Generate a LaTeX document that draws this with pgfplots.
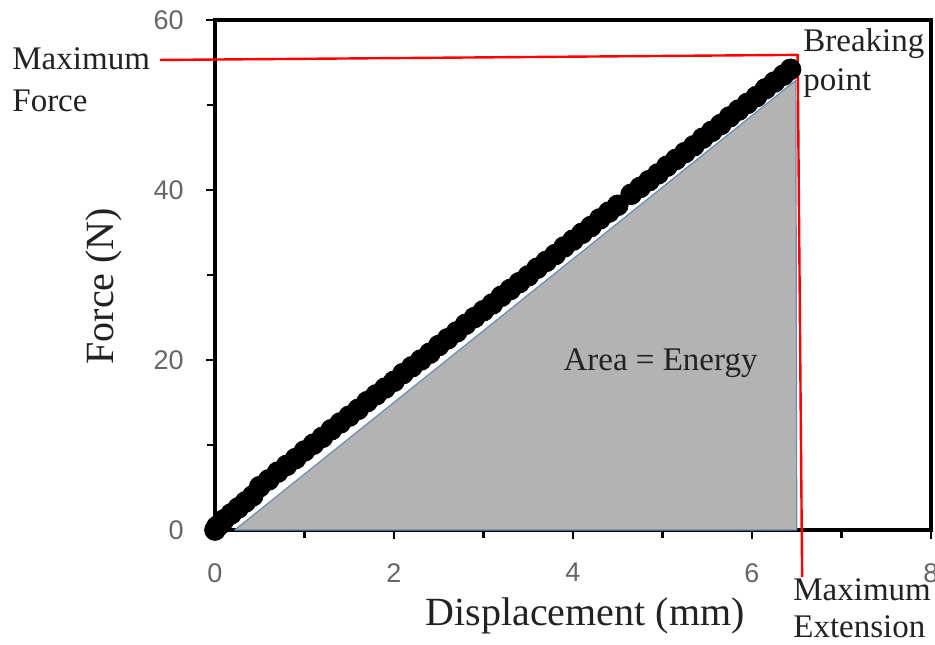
\documentclass[border=0pt]{standalone}
\usepackage{fontspec}
\setmainfont{Liberation Serif}
\newfontfamily\tickfont{Liberation Sans}
\usepackage{pgfplots}
\pgfplotsset{compat=1.18}
\definecolor{edgeblue}{HTML}{6A8CAF}
\definecolor{areagray}{HTML}{B3B3B3}
\definecolor{labtext}{HTML}{222222}
\begin{document}
\begin{tikzpicture}
\path[use as bounding box] (-107.5pt,-57pt) rectangle (360pt,265pt);
\begin{axis}[
  scale only axis,
  width=358pt, height=255pt,
  xmin=0, xmax=8, ymin=0, ymax=60,
  xtick={0,2,4,6,8}, ytick={0,20,40,60},
  minor x tick num=1, minor y tick num=1,
  xtick pos=bottom, ytick pos=left,
  tick align=outside,
  major tick length=4.5pt, minor tick length=4pt,
  every tick/.style={black, line width=1.3pt},
  axis line style={black, line width=1.6pt},
  /pgf/number format/assume math mode=true,
  ticklabel style={font=\tickfont\fontsize{13.5}{16}\selectfont, text=black!60},
  xticklabel style={anchor=north, inner sep=0pt, yshift=-12pt},
  yticklabel style={anchor=east, inner sep=0pt, xshift=-11pt},
  clip=false,
  xlabel={Displacement (mm)},
  ylabel={Force (N)},
  label style={font=\fontsize{20}{24}\selectfont, text=labtext},
  xlabel style={at={(axis description cs:0.517,-0.188)}, anchor=base},
  ylabel style={at={(axis description cs:-0.142,0.478)}, anchor=base},
]
% shaded area
\addplot[fill=areagray, draw=edgeblue, line width=0.6pt]
  coordinates {(0.22,0) (6.49,52.9) (6.5,0) (0.22,0)};
% measured points
\addplot[only marks, mark=*, mark size=5.2pt, black] coordinates {
(0,0) (0.02,0.4) (0.05,0.6) (0.1,1.2) (0.18,1.9) (0.26,2.6) (0.34,3.3) (0.42,4.0)
(0.5,5.1) (0.6,5.9) (0.7,6.8) (0.8,7.6) (0.9,8.4) (1.0,9.3) (1.1,10.1) (1.2,10.9)
(1.3,11.8) (1.4,12.6) (1.5,13.4) (1.6,14.2) (1.7,15.1) (1.8,15.9) (1.9,16.7)
(2.0,17.5) (2.1,18.4) (2.2,19.2) (2.3,20.0) (2.4,20.8) (2.5,21.7) (2.6,22.5)
(2.7,23.3) (2.8,24.2) (2.9,25.0) (3.0,25.8) (3.1,26.6) (3.2,27.5) (3.3,28.3)
(3.4,29.1) (3.5,29.9) (3.6,30.8) (3.7,31.6) (3.8,32.4) (3.9,33.3) (4.0,34.1)
(4.1,34.9) (4.2,35.7) (4.3,36.6) (4.4,37.4) (4.5,38.2)
(4.65,39.5) (4.75,40.3) (4.85,41.1) (4.95,41.9) (5.05,42.8) (5.15,43.6)
(5.25,44.4) (5.35,45.2) (5.45,46.1) (5.55,46.9) (5.65,47.7) (5.75,48.6)
(5.85,49.4) (5.95,50.2) (6.05,51.0) (6.15,51.9) (6.25,52.7) (6.35,53.5) (6.43,54.2)
};
% red guide lines
\addplot[red, line width=1.2pt] coordinates {(-0.615,55.3) (6.51,55.9)};
\addplot[red, line width=1.2pt] coordinates {(6.51,56.0) (6.56,-5.5)};
% annotations
\begin{scope}[every node/.style={font=\fontsize{16.5}{20}\selectfont, text=labtext, inner sep=0pt}]
\node[anchor=base west] at (axis cs:-2.268,54.12) {Maximum};
\node[anchor=base west] at (axis cs:-2.268,49.18) {Force};
\node[anchor=base west] at (axis cs:6.57,56.24) {Breaking};
\node[anchor=base west] at (axis cs:6.57,51.76) {point};
\node[anchor=base west] at (axis cs:6.458,-8.235) {Maximum};
\node[anchor=base west] at (axis cs:6.458,-12.7) {Extension};
\node[anchor=base west] at (axis cs:3.89,18.8) {Area = Energy};
\end{scope}
\end{axis}
\end{tikzpicture}
\end{document}
